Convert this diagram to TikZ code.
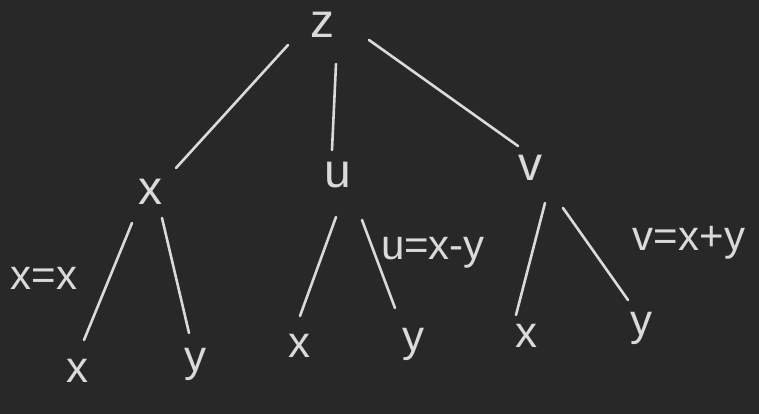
\documentclass[tikz,border=0pt]{standalone}
\usepackage{fontspec}
\setmainfont{Liberation Sans}
\usetikzlibrary{calc}
\definecolor{bg}{HTML}{282828}
\definecolor{ink}{HTML}{DADADA}
\begin{document}
\begin{tikzpicture}[x=1pt,y=-1pt,
  lbl/.style={text=ink, font=\fontsize{48}{48}\selectfont, inner sep=0pt, outer sep=0pt, text height=25pt, text depth=0pt, anchor=center},
  leaf/.style={lbl, font=\fontsize{44}{44}\selectfont, text height=23pt},
  note/.style={lbl, font=\fontsize{42}{42}\selectfont, text height=22pt},
  conn/.style={draw=ink, line width=2.6pt, line cap=round}]
\fill[bg] (0,0) rectangle (759,414);
\useasboundingbox (0,0) rectangle (759,414);

% nodes
\node[lbl] (z) at (322,25) {z};
\node[lbl] (x) at (150,192) {x};
\node[lbl] (u) at (338,175) {u};
\node[lbl] (v) at (530,168) {v};

\node[leaf] (xx) at (77,371) {x};
\node[leaf] (xy) at (195,360) {y};
\node[leaf] (ux) at (299,346) {x};
\node[leaf] (uy) at (413,340) {y};
\node[leaf] (vx) at (526,336) {x};
\node[leaf] (vy) at (641,324) {y};

\node[note] (lx) at (44,278) {x=x};
\node[note] (lu) at (433,248) {u=x-y};
\node[note] (lv) at (689,239) {v=x+y};

% connectors
\draw[conn] ($(z)+(-34,20)$) -- ($(x)+(26,-24)$);
\draw[conn] ($(z)+(14,39)$) -- ($(u)+(-6,-25)$);
\draw[conn] ($(z)+(47,15)$) -- ($(v)+(-12,-22)$);

\draw[conn] ($(x)+(-18,31)$) -- ($(xx)+(7,-31)$);
\draw[conn] ($(x)+(12,26)$) -- ($(xy)+(-6,-27)$);

\draw[conn] ($(u)+(-2,42)$) -- ($(ux)+(1,-30)$);
\draw[conn] ($(u)+(24,45)$) -- ($(uy)+(-18,-32)$);

\draw[conn] ($(v)+(15,35)$) -- ($(vx)+(-10,-21)$);
\draw[conn] ($(v)+(33,40)$) -- ($(vy)+(-13,-24)$);
\end{tikzpicture}
\end{document}
